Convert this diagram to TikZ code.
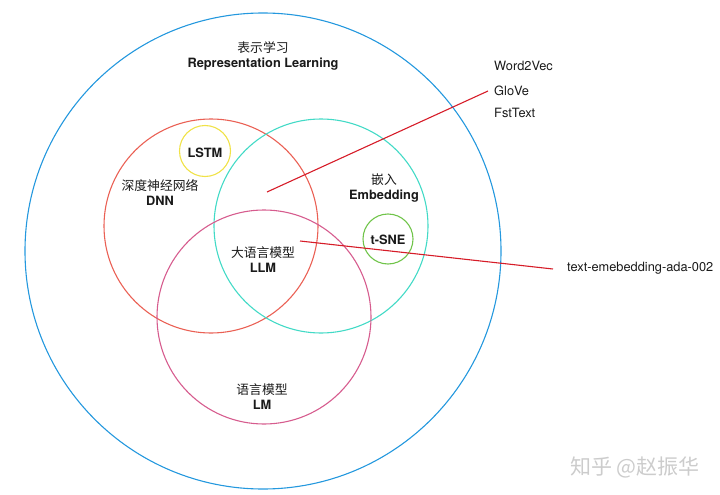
\documentclass[tikz,border=0pt]{standalone}
\usepackage{fontspec}
\setmainfont{TeX Gyre Heros}
\newfontfamily\cjk{Noto Sans CJK SC}
\usepackage{tikz}
\usetikzlibrary{positioning}
\definecolor{myblue}{RGB}{36,152,222}
\definecolor{mysalmon}{RGB}{234,96,84}
\definecolor{myteal}{RGB}{66,218,198}
\definecolor{mypink}{RGB}{214,92,142}
\definecolor{myyellow}{RGB}{240,226,72}
\definecolor{mygreen}{RGB}{112,196,74}
\definecolor{myred}{RGB}{214,28,40}
\definecolor{mytext}{RGB}{26,26,26}
\definecolor{mymark}{RGB}{204,204,204}
\tikzset{
  ring/.style={line width=1.1pt},
  tag/.style={font=\fontsize{12.8}{15}\selectfont, align=center,
    text=mytext, inner sep=1pt},
  item/.style={font=\fontsize{12.8}{15}\selectfont, text=mytext,
    anchor=west, inner sep=3pt},
  pointer/.style={myred, line width=1.1pt},
  watermark/.style={font=\fontsize{21}{24}\selectfont\cjk, text=mymark}
}

\begin{document}
\begin{tikzpicture}[x=1pt, y=-1pt]
  \useasboundingbox (0,0) rectangle (720,495);
  % Outer ring: representation learning
  \draw[ring, myblue] (263,251) circle (238);
  % Three overlapping sets
  \draw[ring, mysalmon] (211,226) circle (107);
  \draw[ring, myteal] (321,226) circle (107);
  \draw[ring, mypink] (264,317) circle (107);
  % Small sets inside DNN and Embedding
  \draw[ring, myyellow] (205,151) circle (25.5);
  \draw[ring, mygreen] (388,239) circle (25);
  % Set labels
  \node[tag] (rl) at (263,56) {{\cjk 表示学习}\\\textbf{Representation Learning}};
  \node[tag] (dnn) at (160,193) {{\cjk 深度神经网络}\\\textbf{DNN}};
  \node[tag] (emb) at (384,188.5) {{\cjk 嵌入}\\\textbf{Embedding}};
  \node[tag] (llm) at (263,260) {{\cjk 大语言模型}\\\textbf{LLM}};
  \node[tag] (lm) at (262,396.5) {{\cjk 语言模型}\\\textbf{LM}};
  \node[tag] (lstm) at (205,153) {\textbf{LSTM}};
  \node[tag] (tsne) at (388,240) {\textbf{t-SNE}};
  % Examples outside the ring
  \node[item] (w2v) at (491,66) {Word2Vec};
  \node[item] (glove) at (491,91) {GloVe};
  \node[item] (fst) at (491,113) {FstText};
  \node[item] (ada) at (564,268) {text-emebedding-ada-002};
  % Pointers
  \coordinate (embpt) at (267,192);
  \coordinate (llmpt) at (300,241);
  \draw[pointer] (embpt) -- ([xshift=-3pt]glove.west);
  \draw[pointer] (llmpt) -- ([xshift=-11pt,yshift=-1pt]ada.west);
  % Watermark
  \node[watermark] (zhihu) at (635,467) {知乎 @赵振华};
\end{tikzpicture}
\end{document}
